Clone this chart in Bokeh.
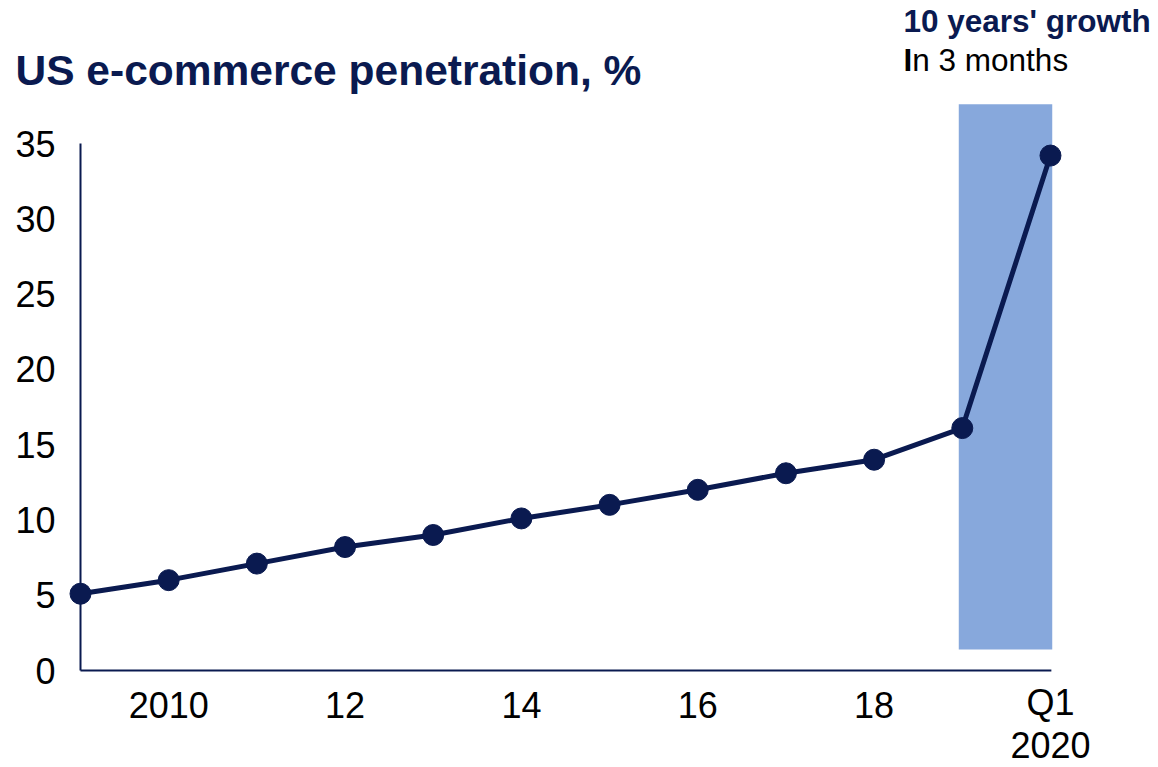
from bokeh.plotting import figure
from bokeh.models import Range1d, ColumnDataSource
from bokeh.core.properties import value
from bokeh.embed import file_html
from bokeh.resources import INLINE

# ---- data ----
periods = ["2009", "2010", "2011", "2012", "2013", "2014", "2015",
           "2016", "2017", "2018", "2019", "Q1 2020"]
penetration = [5.1, 6.0, 7.1, 8.2, 9.0, 10.1, 11.0, 12.0, 13.1, 14.0, 16.1, 34.2]
x_pos = list(range(len(periods)))

y_ticks = [0, 5, 10, 15, 20, 25, 30, 35]
y_tick_labels = [str(t) for t in y_ticks]
x_tick_pos = [1, 3, 5, 7, 9, 11]
x_tick_labels = ["2010", "12", "14", "16", "18", "Q1\n2020"]

title_text = "US e-commerce penetration, %"
note_line1 = "10 years' growth"
note_line2_first = "I"
note_line2_rest = "n 3 months"

# highlight band (last period)
band_left, band_right = 9.96, 11.02
band_bottom, band_top = 1.4, 37.6

# ---- styling / layout ----
NAVY = "#0a1a50"
BAND = "#87a8dc"
FONT = "Liberation Sans"

W, H = 1158, 767
X0_PX, PX_PER_X = 80.0, 88.18      # pixel of x=0, pixels per x unit
Y0_PX, PX_PER_Y = 670.0, 15.057    # pixel of y=0, pixels per y unit
TICK_FS = 36
LINE_H = 1.05

x_start = -X0_PX / PX_PER_X
y_start = (Y0_PX - H) / PX_PER_Y


def px(xp):
    return (xp - X0_PX) / PX_PER_X


def py(yp):
    return (Y0_PX - yp) / PX_PER_Y


p = figure(frame_width=W, frame_height=H,
           x_range=Range1d(x_start, x_start + W / PX_PER_X),
           y_range=Range1d(y_start, y_start + H / PX_PER_Y),
           x_axis_location=None, y_axis_location=None,
           output_backend="svg", toolbar_location=None,
           min_border_left=0, min_border_right=0,
           min_border_top=0, min_border_bottom=0)
p.outline_line_color = None
p.grid.visible = False
p.background_fill_color = "white"
p.border_fill_color = "white"

# highlight band
p.quad(left=[band_left], right=[band_right], bottom=[band_bottom], top=[band_top],
       fill_color=BAND, line_color=None)

# axis lines
p.segment(x0=[0, 0], y0=[0, 0], x1=[0, x_pos[-1] + 0.01], y1=[y_ticks[-1], 0],
          line_color=NAVY, line_width=2)

src = ColumnDataSource(dict(x=x_pos, y=penetration, period=periods))
p.line("x", "y", source=src, line_color=NAVY, line_width=5)
p.scatter("x", "y", source=src, size=21, fill_color=NAVY, line_color=NAVY)

# y tick labels (through the y scale)
p.text(x=[px(55)] * len(y_ticks), y=y_ticks, text=y_tick_labels,
       text_font=value(FONT), text_font_size=f"{TICK_FS}px", text_color="black",
       text_align="right", text_baseline="middle", y_offset=0)

# x tick labels (through the x scale), multi-line labels centred on their block
x_lab_y = [py(704.5 + (lab.count("\n")) * TICK_FS * LINE_H / 2) for lab in x_tick_labels]
p.text(x=x_tick_pos, y=x_lab_y, text=x_tick_labels,
       text_font=value(FONT), text_font_size=f"{TICK_FS}px", text_color="black",
       text_align="center", text_baseline="middle", text_line_height=LINE_H)

# title and note
p.text(x=[px(15)], y=[py(70)], text=[title_text], text_font=value(FONT),
       text_font_size="42.5px", text_font_style="bold", text_color=NAVY,
       text_baseline="alphabetic")
p.text(x=[px(903)], y=[py(20)], text=[note_line1], text_font=value(FONT),
       text_font_size="31.5px", text_font_style="bold", text_color=NAVY,
       text_baseline="alphabetic")
p.text(x=[px(903)], y=[py(59)], text=[note_line2_first], text_font=value(FONT),
       text_font_size="31.5px", text_font_style="bold", text_color="black",
       text_baseline="alphabetic")
p.text(x=[px(911.8)], y=[py(59)], text=[note_line2_rest], text_font=value(FONT),
       text_font_size="31.5px", text_color="black", text_baseline="alphabetic")

open("out.html", "w").write(file_html(p, INLINE))
